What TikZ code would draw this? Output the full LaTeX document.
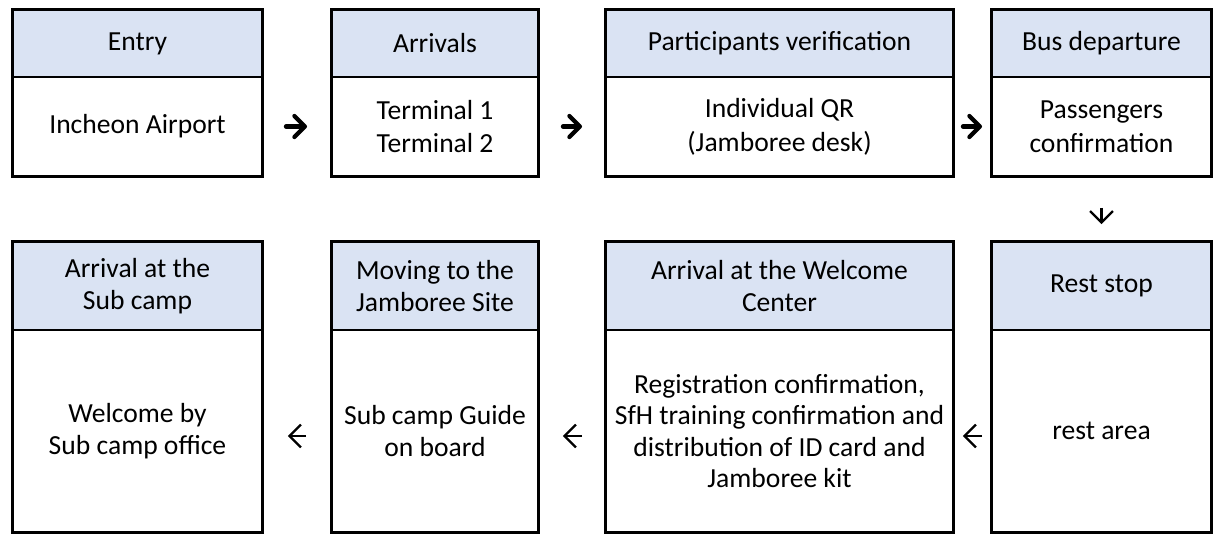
\documentclass[tikz,border=0pt]{standalone}
\usepackage{fontspec}
\setmainfont{Carlito}
\usetikzlibrary{arrows.meta}
\definecolor{hdrblue}{HTML}{DAE3F3}
\tikzset{
  txt/.style={font=\fontsize{15.7}{19.3}\selectfont},
  hdr/.style={draw=black, line width=1.1pt, fill=hdrblue, inner sep=0pt, align=center, txt},
  bdy/.style={draw=black, line width=1.1pt, fill=white, inner sep=0pt, align=center, txt},
  frame/.style={draw=black, line width=1.7pt},
  heavyarrow/.style={line width=2.4pt, line cap=round, -{Straight Barb[length=6pt, width=12pt, round]}},
  thinarrow/.style={line width=1.3pt, -{Straight Barb[length=6.5pt, width=13pt]}}
}
\newcommand\stagebox[8]{%
  \node[hdr, minimum width={(#3-#2)*0.02cm}, minimum height={(#5-#4)*0.02cm}] (#1h) at ({(#2+#3)/2},{(#4+#5)/2}) {#7};
  \node[bdy, minimum width={(#3-#2)*0.02cm}, minimum height={(#6-#5)*0.02cm}] (#1b) at ({(#2+#3)/2},{(#5+#6)/2}) {#8};
  \draw[frame] (#1h.north west) rectangle (#1b.south east);
}
\begin{document}
\begin{tikzpicture}[x=0.02cm, y=-0.02cm]
\useasboundingbox (0,0) rectangle (1213,535);
% top row
\stagebox{A}{13}{262}{10}{77}{176}{Entry}{Incheon Airport}
\stagebox{B}{332}{538}{10}{77}{176}{Arrivals}{Terminal 1\\Terminal 2}
\stagebox{C}{606}{953}{10}{77}{176}{Participants verification}{Individual QR\\(Jamboree desk)}
\stagebox{D}{992}{1211}{10}{77}{176}{Bus departure}{Passengers\\confirmation}
% bottom row
\tikzset{txt/.style={font=\fontsize{15.7}{18}\selectfont}}
\stagebox{H}{13}{262}{242}{330}{532}{Arrival at the\\Sub camp}{Welcome by\\Sub camp office}
\stagebox{G}{332}{538}{242}{330}{532}{Moving to the\\Jamboree Site}{Sub camp Guide\\on board}
\stagebox{F}{606}{953}{242}{330}{532}{Arrival at the Welcome\\Center}{Registration confirmation,\\SfH training confirmation and\\distribution of ID card and\\Jamboree kit}
\stagebox{E}{992}{1211}{242}{330}{532}{Rest stop}{rest area}
% connectors
\draw[heavyarrow, shorten <=0.46cm, shorten >=0.48cm] (Ab.east) -- (Bb.west);
\draw[heavyarrow, shorten <=0.48cm, shorten >=0.46cm] (Bb.east) -- (Cb.west);
\draw[heavyarrow, shorten <=0.18cm, shorten >=0.18cm] (Cb.east) -- (Db.west);
\draw[thinarrow, shorten <=0.62cm, shorten >=0.34cm] (Db.south) -- (Eh.north);
\draw[thinarrow, shorten <=0.18cm, shorten >=0.18cm] ([yshift=-0.1cm]Eb.west) -- ([yshift=-0.1cm]Fb.east);
\draw[thinarrow, shorten <=0.46cm, shorten >=0.48cm] ([yshift=-0.1cm]Fb.west) -- ([yshift=-0.1cm]Gb.east);
\draw[thinarrow, shorten <=0.5cm, shorten >=0.5cm] ([yshift=-0.1cm]Gb.west) -- ([yshift=-0.1cm]Hb.east);
\end{tikzpicture}
\end{document}
